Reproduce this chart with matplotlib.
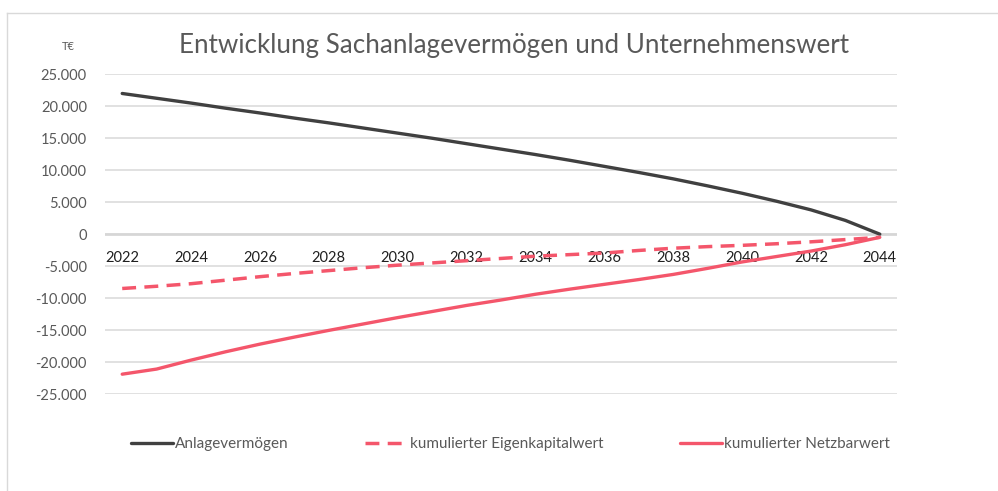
import matplotlib
matplotlib.use("Agg")
import matplotlib.pyplot as plt
from matplotlib.lines import Line2D
from matplotlib.ticker import FuncFormatter

plt.rcParams['font.family'] = ['Lato', 'DejaVu Sans']

years = list(range(2022, 2045))

anlagevermoegen = [22000, 21250, 20500, 19700, 18950, 18150, 17400, 16600, 15800,
                   15000, 14150, 13300, 12450, 11550, 10600, 9650, 8650, 7550,
                   6400, 5150, 3800, 2150, 0]
eigenkapitalwert = [-8500, -8150, -7750, -7200, -6650, -6150, -5700, -5250, -4850,
                    -4500, -4150, -3800, -3450, -3200, -2950, -2550, -2200, -1950,
                    -1750, -1500, -1200, -850, -500]
netzbarwert = [-21900, -21100, -19700, -18400, -17200, -16100, -15050, -14050,
               -13050, -12100, -11150, -10300, -9400, -8600, -7850, -7100, -6300,
               -5350, -4350, -3500, -2650, -1650, -500]

labels = ["Anlagevermögen", "kumulierter Eigenkapitalwert", "kumulierter Netzbarwert"]

grey_text = "#595959"
red = "#F4566B"

fig = plt.figure(figsize=(9.98, 4.91), dpi=100)
ax = fig.add_axes([105 / 998, 1 - 394 / 491, 792 / 998, (394 - 74.3) / 491])

ax.plot(years, anlagevermoegen, color="#404040", lw=2.4, solid_capstyle="round",
        label=labels[0], zorder=3)
ax.plot(years, eigenkapitalwert, color=red, lw=2.5, dashes=(4, 2.4),
        label=labels[1], zorder=3)
ax.plot(years, netzbarwert, color=red, lw=2.4, solid_capstyle="round",
        label=labels[2], zorder=3)

ax.set_xlim(2021.5, 2044.5)
ax.set_ylim(-25000, 25000)
ax.set_yticks(range(-25000, 25001, 5000))
ax.yaxis.set_major_formatter(FuncFormatter(lambda v, p: f"{int(v):,}".replace(",", ".")))
ax.set_xticks(years[::2])

ax.grid(axis="y", color="#D9D9D9", lw=1.1, zorder=0)
ax.axhline(0, color="#D0D0D0", lw=1.8, zorder=1)
for s in ax.spines.values():
    s.set_visible(False)
ax.spines["bottom"].set_position(("data", 0))

ax.tick_params(axis="y", length=0, pad=13, labelsize=10.5, labelcolor=grey_text)
ax.tick_params(axis="x", length=0, pad=12, labelsize=10.5, labelcolor="#1F1F1F")

fig.text(68 / 998, 1 - 47 / 491, "T€", fontsize=8, color=grey_text, ha="center", va="center")
fig.text(514 / 998, 1 - 45 / 491, "Entwicklung Sachanlagevermögen und Unternehmenswert",
         fontsize=18.7, color=grey_text, ha="center", va="center")

leg = fig.legend(loc="center left", bbox_to_anchor=(125 / 998, 1 - 444 / 491), ncol=3,
                 frameon=False, fontsize=11, handlelength=2.75, handletextpad=0.15,
                 columnspacing=5.0, borderaxespad=0)
for t in leg.get_texts():
    t.set_color(grey_text)

# chart area border (top and left)
fig.add_artist(Line2D([7 / 998, 998 / 998], [1 - 13 / 491, 1 - 13 / 491],
                      transform=fig.transFigure, color="#D9D9D9", lw=1))
fig.add_artist(Line2D([7 / 998, 7 / 998], [0, 1 - 13 / 491],
                      transform=fig.transFigure, color="#D9D9D9", lw=1))

fig.savefig("out.png", dpi=100)
